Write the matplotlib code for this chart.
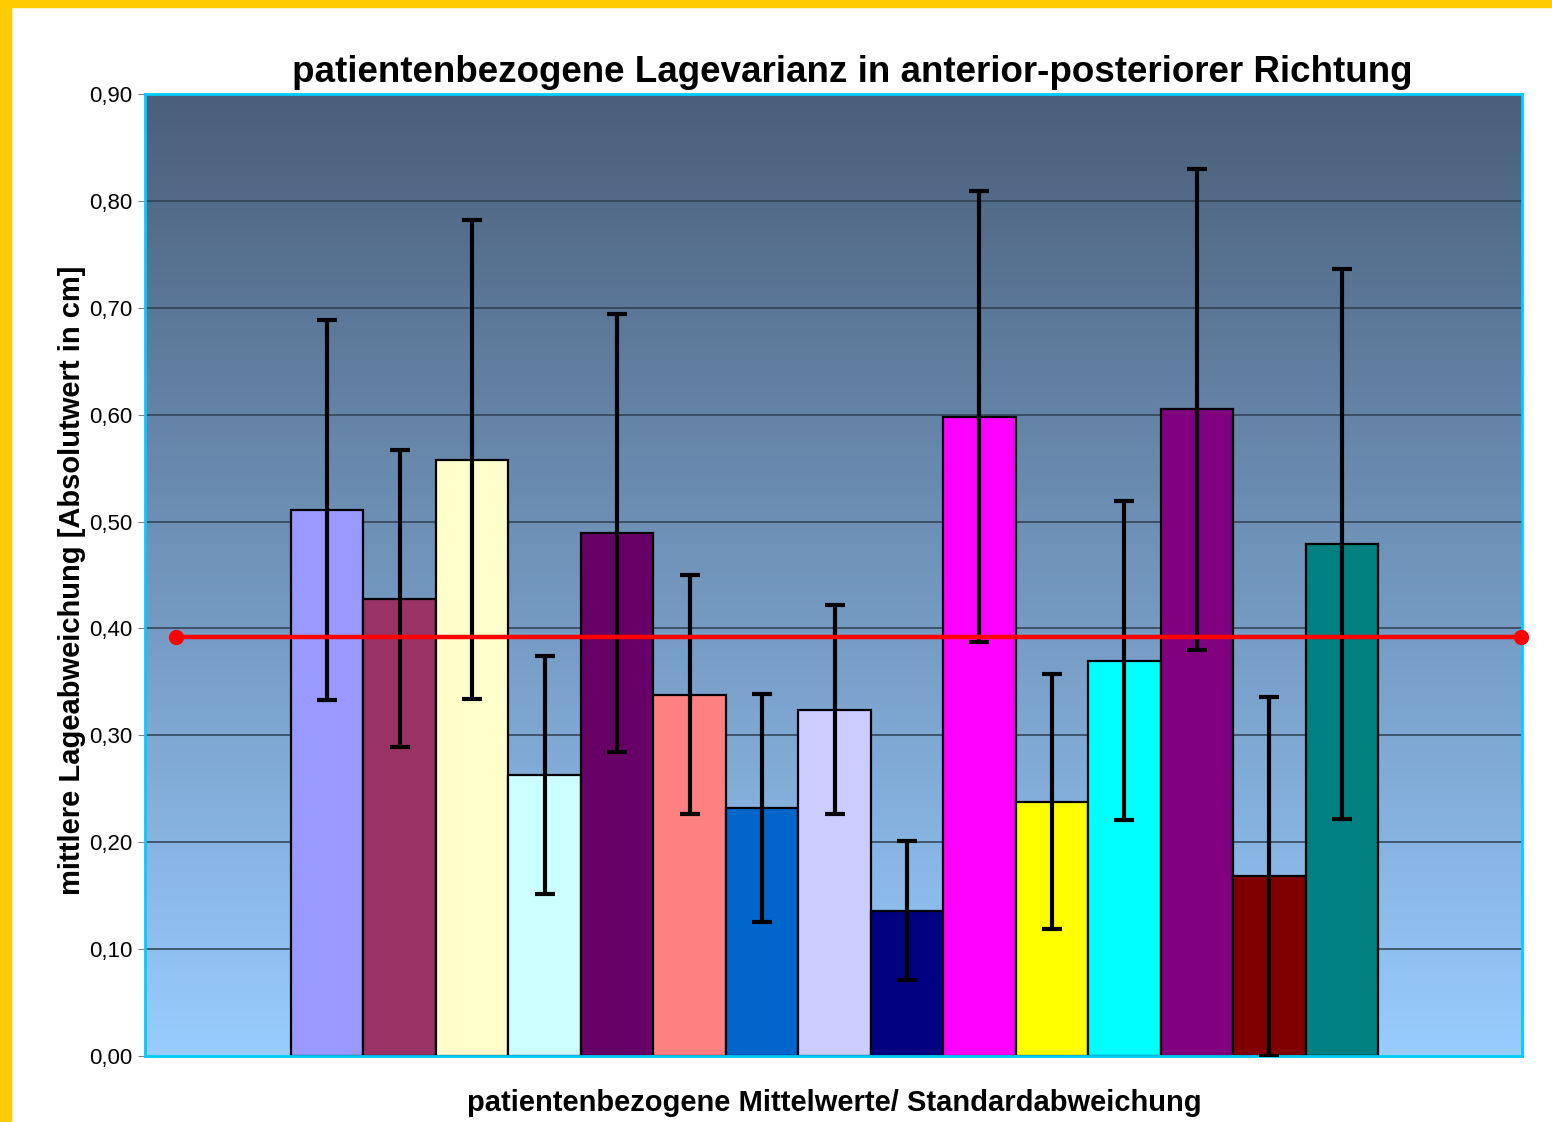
import matplotlib
matplotlib.use("Agg")
import matplotlib.pyplot as plt
import numpy as np
from matplotlib.colors import LinearSegmentedColormap
from matplotlib.patches import Rectangle

plt.rcParams['font.family'] = ['Liberation Sans', 'DejaVu Sans']

#--DATA--#
means = [0.511, 0.428, 0.558, 0.263, 0.489, 0.338, 0.232, 0.324,
         0.136, 0.598, 0.238, 0.370, 0.605, 0.168, 0.479]
sds = [0.178, 0.139, 0.224, 0.111, 0.205, 0.112, 0.107, 0.098,
       0.065, 0.211, 0.119, 0.149, 0.225, 0.168, 0.257]
bar_colors = ['#9999FF', '#993366', '#FFFFCC', '#CCFFFF', '#660066',
              '#FF8080', '#0066CC', '#CCCCFF', '#000080', '#FF00FF',
              '#FFFF00', '#00FFFF', '#800080', '#800000', '#008080']
mean_line = 0.392
yticks = [0.0, 0.1, 0.2, 0.3, 0.4, 0.5, 0.6, 0.7, 0.8, 0.9]
#----#

fig = plt.figure(figsize=(15.52, 11.22), dpi=100)
fig.patch.set_facecolor('white')

# yellow frame on top and left
fig.patches.append(Rectangle((0, 1 - 7 / 1122), 1, 7 / 1122, transform=fig.transFigure,
                             color='#FFCC00', zorder=0))
fig.patches.append(Rectangle((0, 0), 11 / 1552, 1, transform=fig.transFigure,
                             color='#FFCC00', zorder=0))

ax = fig.add_axes([145 / 1552, 1 - 1056 / 1122, 1377 / 1552, 962 / 1122])

x = np.arange(len(means))
xlim = (-2.515, 16.487)
ax.set_xlim(*xlim)
ax.set_ylim(0, 0.9)

# gradient background
cmap = LinearSegmentedColormap.from_list('bg', ['#99CCFF', '#4A5F7A'])
grad = np.linspace(0, 1, 256).reshape(-1, 1)
ax.imshow(grad, aspect='auto', cmap=cmap, origin='lower',
          extent=[xlim[0], xlim[1], 0, 0.9], zorder=0)

for t in yticks[1:-1]:
    ax.axhline(t, color='#2E3E50', lw=1.1, zorder=1)

ax.bar(x, means, width=1.0, color=bar_colors, edgecolor='black', linewidth=1.6, zorder=2)
ax.errorbar(x, means, yerr=sds, fmt='none', ecolor='black', elinewidth=3,
            capsize=7, capthick=3, zorder=3)

# mean line
lx = [xlim[0] + 0.428, xlim[1] - 0.01]
ax.plot(lx, [mean_line, mean_line], color='#FF0000', lw=3.2, marker='o',
        markersize=10, zorder=4, clip_on=False)

ax.set_yticks(yticks)
ax.set_yticklabels([f"{t:.2f}".replace('.', ',') for t in yticks], fontsize=16)
ax.tick_params(axis='y', length=5, color='#808080', pad=4)
ax.set_xticks([])

for s in ax.spines.values():
    s.set_color('#00CCFF')
    s.set_linewidth(2)

fig.text(852 / 1552, 1 - 73 / 1122, 'patientenbezogene Lagevarianz in anterior-posteriorer Richtung',
         ha='center', va='center', fontsize=26.5, fontweight='bold')
fig.text(72 / 1552, 1 - 580 / 1122, 'mittlere Lageabweichung [Absolutwert in cm]',
         ha='center', va='center', rotation=90, fontsize=21, fontweight='bold')
fig.text(834 / 1552, 1 - 1103 / 1122, 'patientenbezogene Mittelwerte/ Standardabweichung',
         ha='center', va='center', fontsize=21, fontweight='bold')

fig.savefig('out.png', dpi=100)
